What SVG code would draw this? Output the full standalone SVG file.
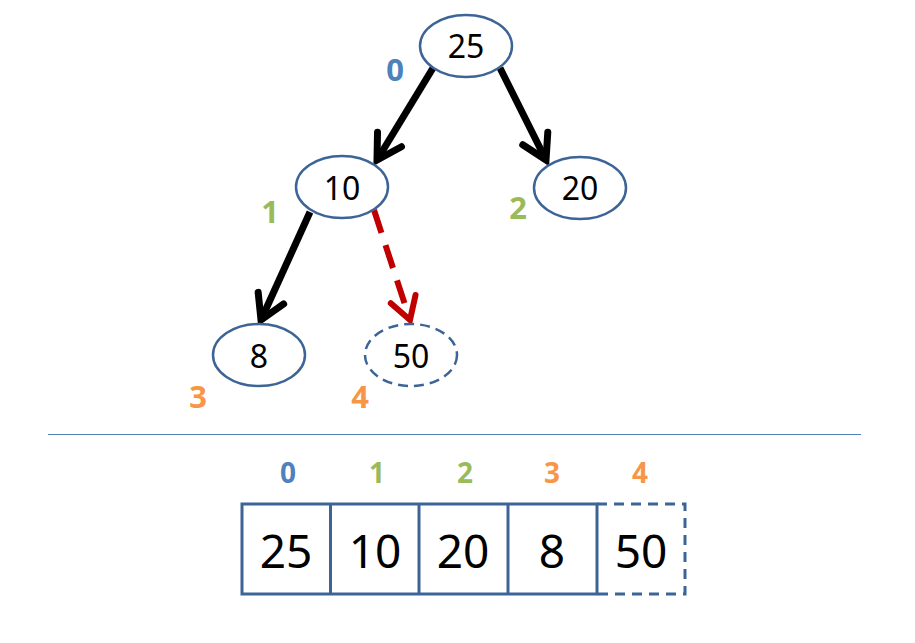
<svg xmlns="http://www.w3.org/2000/svg" width="915" height="643" viewBox="0 0 915 643">
<style>
.node{fill:#fff;stroke:#3d6496;stroke-width:2.5}
.dash{stroke-dasharray:10 6}
.nt{font-family:"Noto Sans","Liberation Sans",sans-serif;font-size:32px;fill:#000;text-anchor:middle}
.at{font-family:"Noto Sans","Liberation Sans",sans-serif;font-size:46px;fill:#000;text-anchor:middle}
.lb{font-family:"Noto Sans","Liberation Sans",sans-serif;font-weight:bold;font-size:31px;text-anchor:middle}
.la{font-family:"Noto Sans","Liberation Sans",sans-serif;font-weight:bold;font-size:28px;text-anchor:middle}
.blue{fill:#4f81bd}.green{fill:#9bbb59}.orange{fill:#f79646}
.edge{stroke:#000;stroke-width:7;fill:none}
.red{stroke:#c00000;stroke-width:6;fill:none;stroke-dasharray:24 13}
.cell{fill:none;stroke:#3d6496;stroke-width:3}
</style>
<defs>
<marker id="ah" markerUnits="userSpaceOnUse" viewBox="-35 -25 45 50" markerWidth="45" markerHeight="50" refX="0" refY="0" orient="auto" overflow="visible">
<path d="M-24,-14 L0,0 L-24,14" fill="none" stroke="#000" stroke-width="7" stroke-linecap="round" stroke-linejoin="miter"/>
</marker>
<marker id="ahr" markerUnits="userSpaceOnUse" viewBox="-35 -25 45 50" markerWidth="45" markerHeight="50" refX="0" refY="0" orient="auto" overflow="visible">
<path d="M-22,-13 L0,0 L-22,13" fill="none" stroke="#c00000" stroke-width="6" stroke-linecap="round" stroke-linejoin="miter"/>
</marker>
</defs>
<g id="connectors">
<line class="edge" x1="433" y1="68" x2="377" y2="160" marker-end="url(#ah)"/>
<line class="edge" x1="500" y1="68" x2="546" y2="160" marker-end="url(#ah)"/>
<line class="edge" x1="310" y1="212" x2="261" y2="320" marker-end="url(#ah)"/>
<line class="red" x1="374" y1="210" x2="410" y2="320" marker-end="url(#ahr)"/>
</g>
<g id="node-25"><ellipse class="node" cx="466" cy="46" rx="46" ry="31"/><text class="nt" x="466" y="58">25</text></g>
<g id="node-10"><ellipse class="node" cx="342" cy="187" rx="46" ry="31"/><text class="nt" x="342" y="200">10</text></g>
<g id="node-20"><ellipse class="node" cx="580" cy="188" rx="46" ry="31"/><text class="nt" x="580" y="200">20</text></g>
<g id="node-8"><ellipse class="node" cx="259" cy="355" rx="46" ry="31"/><text class="nt" x="259" y="368">8</text></g>
<g id="node-50"><ellipse class="node dash" cx="411" cy="355" rx="46" ry="31"/><text class="nt" x="411" y="368">50</text></g>
<g id="tree-labels">
<text class="lb blue" x="395" y="81">0</text>
<text class="lb green" x="270" y="223">1</text>
<text class="lb green" x="518" y="219">2</text>
<text class="lb orange" x="198" y="408">3</text>
<text class="lb orange" x="360" y="408">4</text>
</g>
<line x1="48" y1="434.5" x2="861" y2="434.5" stroke="#4f81bd" stroke-width="1"/>
<g id="array">
<rect class="cell" x="242" y="504" width="355" height="90"/>
<line class="cell" x1="330.5" y1="504" x2="330.5" y2="594"/>
<line class="cell" x1="419" y1="504" x2="419" y2="594"/>
<line class="cell" x1="508" y1="504" x2="508" y2="594"/>
<path class="cell" d="M597,504 H685 V594 H597" stroke-dasharray="10 7"/>
<text class="at" x="286" y="568">25</text>
<text class="at" x="375" y="568">10</text>
<text class="at" x="463" y="568">20</text>
<text class="at" x="552" y="568">8</text>
<text class="at" x="641" y="568">50</text>
<text class="la blue" x="288" y="483">0</text>
<text class="la green" x="377" y="483">1</text>
<text class="la green" x="465" y="483">2</text>
<text class="la orange" x="552" y="483">3</text>
<text class="la orange" x="640" y="483">4</text>
</g>
</svg>
